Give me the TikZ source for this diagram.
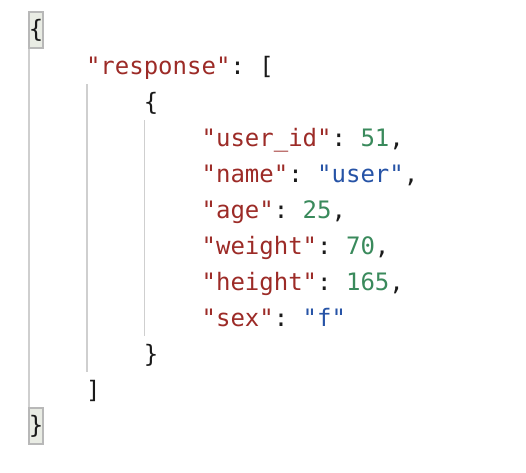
\documentclass[tikz,border=0pt]{standalone}
\usepackage{fontspec}
\setmonofont{DejaVu Sans Mono}
\definecolor{keyred}{HTML}{9C2B27}
\definecolor{numgreen}{HTML}{3A8A5C}
\definecolor{strblue}{HTML}{2653A6}
\definecolor{punct}{HTML}{1A1A1A}
\definecolor{guidegray}{HTML}{CFCFCF}
\definecolor{boxgray}{HTML}{B8B8B8}
\definecolor{boxfill}{HTML}{E9ECE4}
\newcommand{\jkey}[1]{\textcolor{keyred}{"#1"}:}
\newcommand{\jnum}[1]{\textcolor{numgreen}{#1}}
\newcommand{\jstr}[1]{\textcolor{strblue}{"#1"}}
\begin{document}
\begin{tikzpicture}[
        x=1pt, y=-1pt,
        font=\ttfamily\fontsize{24}{36}\selectfont,
        color=punct
    ]
    \tikzset{
        codeline/.style = {anchor=base west, inner sep=0pt, text height=26pt, text depth=10pt},
        matchbox/.style = {rectangle, anchor=west, draw=boxgray, fill=boxfill, line width=1.5pt, minimum width=13.5pt, minimum height=36pt, inner sep=0pt},
        guide/.style = {draw=guidegray, line width=1.6pt},
    }
    \useasboundingbox (0,0) rectangle (526,472);
    % outer braces
    \node[matchbox] (open) at (28,30) {\{};
    \node[matchbox] (close) at (28,426) {\}};
    % array
    \node[codeline] (resp) at (85.8,74) {\jkey{response} [};
    \node[codeline] (rclose) at (85.8,398) {]};
    % object
    \node[codeline] (obj) at (143.6,110) {\{};
    \node[codeline] (oclose) at (143.6,362) {\}};
    \node[codeline] (userid) at (201.4,146) {\jkey{user\_id} \jnum{51},};
    \node[codeline] (name) at (201.4,182) {\jkey{name} \jstr{user},};
    \node[codeline] (age) at (201.4,218) {\jkey{age} \jnum{25},};
    \node[codeline] (weight) at (201.4,254) {\jkey{weight} \jnum{70},};
    \node[codeline] (height) at (201.4,290) {\jkey{height} \jnum{165},};
    \node[codeline] (sex) at (201.4,326) {\jkey{sex} \jstr{f}};
    % indent guides
    \draw[guide] ([xshift=1pt]open.south west) -- ([xshift=1pt]close.north west);
    \draw[guide] ([xshift=1pt]resp.south west) -- ([xshift=1pt]rclose.north west);
    \draw[guide] ([xshift=1pt]obj.south west) -- ([xshift=1pt]oclose.north west);
\end{tikzpicture}
\end{document}
